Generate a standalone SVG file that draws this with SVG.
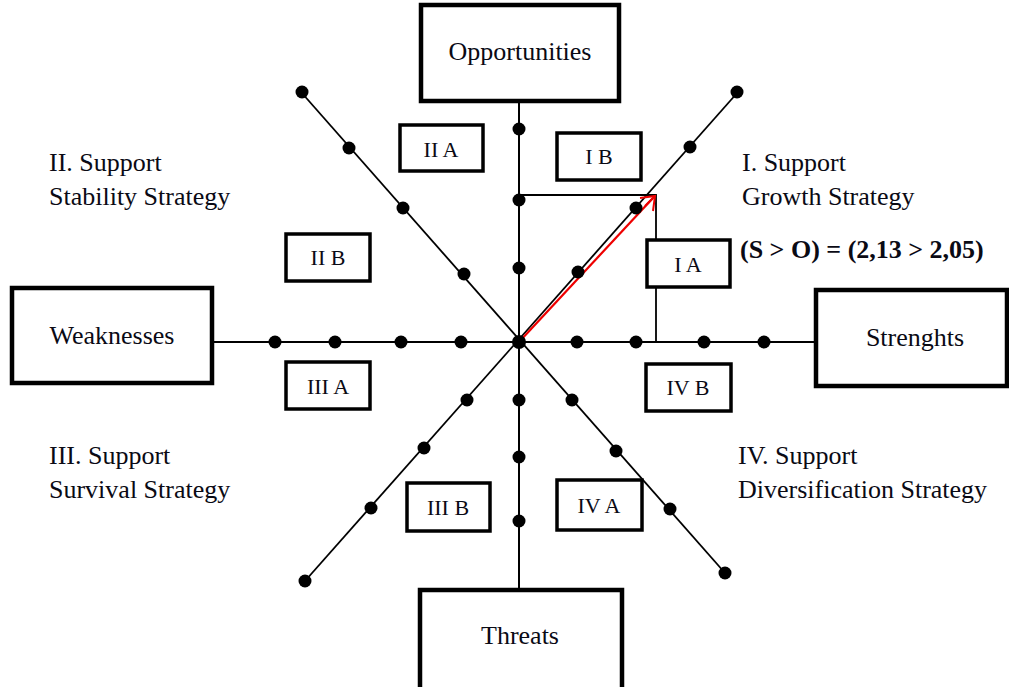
<svg xmlns="http://www.w3.org/2000/svg" width="1009" height="687" viewBox="0 0 1009 687">
<style>
.big{fill:#fff;stroke:#000;stroke-width:4.5}
.sm{fill:#fff;stroke:#000;stroke-width:3.5}
.ax{stroke:#000;stroke-width:2;fill:none}
.thin{stroke:#000;stroke-width:1.8;fill:none}
.dot{fill:#000}
text{font-family:"Liberation Serif","Times New Roman",serif;fill:#0a0a14}
.t26{font-size:26px}
.t21{font-size:22px}
.mid{text-anchor:middle}
.b{font-weight:bold}
</style>
<rect width="1009" height="687" fill="#fff"/>
<g id="connectors">
<line class="ax" x1="519" y1="100" x2="519" y2="590"/>
<line class="ax" x1="212" y1="342" x2="816" y2="342"/>
<line class="thin" x1="305" y1="581" x2="738" y2="92"/>
<line class="thin" x1="301" y1="92" x2="725" y2="573"/>
<polyline class="thin" points="519,195 656,195 656,342"/>
<line x1="519" y1="342" x2="653" y2="198" stroke="#e00" stroke-width="2.2"/>
<polyline points="640,198 655,196 653,211" fill="none" stroke="#e00" stroke-width="2"/>
<line x1="645" y1="206" x2="655" y2="196" stroke="#e00" stroke-width="2"/>
</g>
<g id="dots">
<circle class="dot" cx="519" cy="342" r="7"/>
<circle class="dot" cx="519" cy="129" r="6.5"/>
<circle class="dot" cx="519" cy="200" r="6.5"/>
<circle class="dot" cx="519" cy="268" r="6.5"/>
<circle class="dot" cx="519" cy="400" r="6.5"/>
<circle class="dot" cx="519" cy="457" r="6.5"/>
<circle class="dot" cx="519" cy="521" r="6.5"/>
<circle class="dot" cx="275" cy="342" r="6.5"/>
<circle class="dot" cx="335" cy="342" r="6.5"/>
<circle class="dot" cx="401" cy="342" r="6.5"/>
<circle class="dot" cx="461" cy="342" r="6.5"/>
<circle class="dot" cx="577" cy="342" r="6.5"/>
<circle class="dot" cx="636" cy="342" r="6.5"/>
<circle class="dot" cx="704" cy="342" r="6.5"/>
<circle class="dot" cx="764" cy="342" r="6.5"/>
<circle class="dot" cx="737" cy="92" r="6.5"/>
<circle class="dot" cx="690" cy="147" r="6.5"/>
<circle class="dot" cx="636" cy="208" r="6.5"/>
<circle class="dot" cx="578" cy="272" r="6.5"/>
<circle class="dot" cx="467" cy="400" r="6.5"/>
<circle class="dot" cx="424" cy="448" r="6.5"/>
<circle class="dot" cx="371" cy="508" r="6.5"/>
<circle class="dot" cx="305" cy="581" r="6.5"/>
<circle class="dot" cx="302" cy="92" r="6.5"/>
<circle class="dot" cx="349" cy="148" r="6.5"/>
<circle class="dot" cx="403" cy="208" r="6.5"/>
<circle class="dot" cx="464" cy="274" r="6.5"/>
<circle class="dot" cx="572" cy="400" r="6.5"/>
<circle class="dot" cx="616" cy="451" r="6.5"/>
<circle class="dot" cx="670" cy="509" r="6.5"/>
<circle class="dot" cx="725" cy="573" r="6.5"/>
</g>
<g id="opportunities"><rect class="big" x="421" y="5" width="198" height="96"/><text class="t26 mid" x="520" y="60">Opportunities</text></g>
<g id="weaknesses"><rect class="big" x="12" y="288" width="200" height="95"/><text class="t26 mid" x="112" y="344">Weaknesses</text></g>
<g id="strenghts"><rect class="big" x="816" y="290" width="191" height="96"/><text class="t26 mid" x="915" y="346">Strenghts</text></g>
<g id="threats"><rect class="big" x="420" y="590" width="202" height="102"/><text class="t26 mid" x="520" y="644">Threats</text></g>
<g id="IIA"><rect class="sm" x="400" y="125" width="83" height="46"/><text class="t21 mid" x="441" y="157">II A</text></g>
<g id="IB"><rect class="sm" x="557" y="133" width="84" height="47"/><text class="t21 mid" x="599" y="164">I B</text></g>
<g id="IIB"><rect class="sm" x="286" y="234" width="84" height="47"/><text class="t21 mid" x="328" y="265">II B</text></g>
<g id="IA"><rect class="sm" x="647" y="240" width="83" height="47"/><text class="t21 mid" x="688" y="272">I A</text></g>
<g id="IIIA"><rect class="sm" x="286" y="362" width="84" height="47"/><text class="t21 mid" x="328" y="394">III A</text></g>
<g id="IVB"><rect class="sm" x="646" y="364" width="85" height="47"/><text class="t21 mid" x="688" y="395">IV B</text></g>
<g id="IIIB"><rect class="sm" x="407" y="483" width="83" height="48"/><text class="t21 mid" x="448" y="515">III B</text></g>
<g id="IVA"><rect class="sm" x="557" y="480" width="85" height="50"/><text class="t21 mid" x="599" y="513">IV A</text></g>
<g id="labels">
<text class="t26" x="49" y="171">II. Support</text>
<text class="t26" x="49" y="205">Stability Strategy</text>
<text class="t26" x="742" y="171">I. Support</text>
<text class="t26" x="742" y="205">Growth Strategy</text>
<text class="t26 b" x="740" y="258">(S &gt; O) = (2,13 &gt; 2,05)</text>
<text class="t26" x="49" y="464">III. Support</text>
<text class="t26" x="49" y="498">Survival Strategy</text>
<text class="t26" x="738" y="464">IV. Support</text>
<text class="t26" x="738" y="498">Diversification Strategy</text>
</g>
</svg>
